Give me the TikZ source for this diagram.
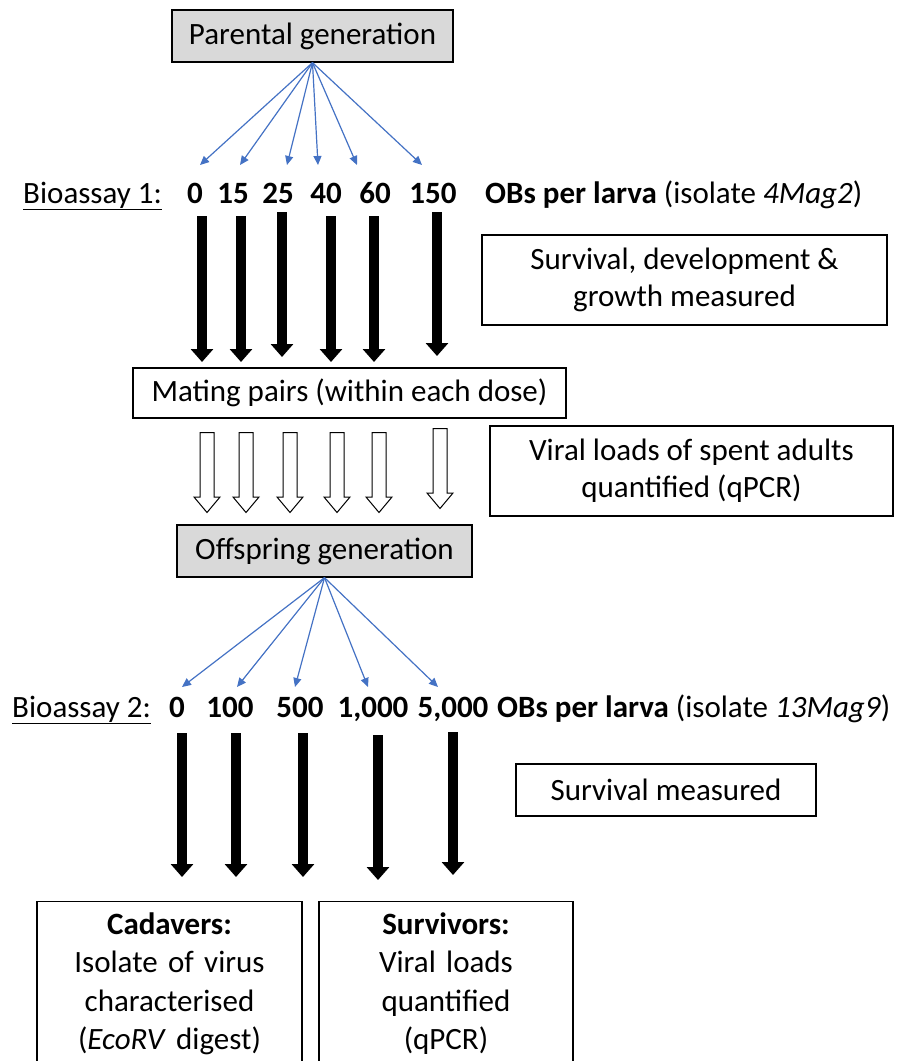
\documentclass[tikz,border=0pt]{standalone}
\usepackage{fontspec}
\setmainfont{Carlito}
\usetikzlibrary{arrows.meta,shapes.arrows}
\definecolor{boxgray}{RGB}{217,217,217}
\definecolor{arrowblue}{RGB}{68,114,196}

\begin{document}
\begin{tikzpicture}[
		x=1pt,y=-1pt,
		font=\fontsize{31}{37}\selectfont,
		genbox/.style={draw,line width=1.3pt,fill=boxgray,inner sep=0pt},
		infobox/.style={draw,line width=1.1pt,fill=white,align=center,inner sep=0pt},
		dose/.style={anchor=base,inner sep=0pt,font=\fontsize{31}{37}\selectfont\bfseries},
		rowtext/.style={anchor=base west,inner sep=0pt},
		thinarrow/.style={draw=arrowblue,line width=1.2pt,-{Triangle[width=8pt,length=9pt]}},
		fatarrow/.style={line width=10pt,-{Triangle[width=22pt,length=13pt]}},
		hollowarrow/.style={single arrow,draw,line width=1pt,fill=white,rotate=-90,anchor=tail,
			minimum height=80pt,inner xsep=0pt,inner ysep=6.5pt,
			single arrow head extend=6pt,single arrow tip angle=80}
		]
		\useasboundingbox (0,0) rectangle (912,1061);
		
		% parental generation and first bioassay
		\node[genbox,minimum width=281pt,minimum height=52pt] (par) at (312.5,36) {Parental generation};
		\node[rowtext] (bio1) at (23,203) {\underline{Bioassay 1:}};
		\foreach \v/\x [count=\i] in {0/195,15/233,25/278,40/326,60/375,150/433}
		\node[dose] (n\i) at (\x,203) {\v};
		\node[rowtext] (unit1) at (485,203) {\textbf{OBs per larva} (isolate \textit{4Mag2})};
		\foreach \x [count=\i] in {200,240,287,318,357,422}{
			\coordinate (t\i) at (\x,165);
			\draw[thinarrow] (par.south) -- (t\i);
		}
		\foreach \x/\t/\b [count=\i] in {202/216/362,241/216/362,282/212/357,331/216/362,374/216/362,437/212/356}{
			\coordinate (f\i) at (\x,\t);
			\coordinate (g\i) at (\x,\b);
			\draw[fatarrow] (f\i) -- (g\i);
		}
		\node[infobox,minimum width=405pt,minimum height=90pt] (surv) at (684.5,280)
		{Survival, development \&\\growth measured};
		
		% mating pairs
		\node[infobox,minimum width=433pt,minimum height=50pt] (mating) at (349.5,393)
		{Mating pairs (within each dose)};
		\foreach \x/\t [count=\i] in {207/432,246/432,290/432,337/432,379/432,440/428}
		\node[hollowarrow] (h\i) at (\x,\t) {};
		\node[infobox,minimum width=403pt,minimum height=90pt] (viral) at (691.5,471)
		{Viral loads of spent adults\\quantified (qPCR)};
		
		% offspring generation and second bioassay
		\node[genbox,minimum width=295pt,minimum height=52pt] (off) at (324.5,551) {Offspring generation};
		\foreach \x [count=\i] in {182,237,295,368,438}{
			\coordinate (u\i) at (\x,687);
			\draw[thinarrow] (off.south) -- (u\i);
		}
		\node[rowtext] (bio2) at (12,717) {\underline{Bioassay 2:}};
		\foreach \v/\x [count=\i] in {0/177,100/230,500/300,1{,}000/373,5{,}000/453}
		\node[dose] (m\i) at (\x,717) {\v};
		\node[rowtext] (unit2) at (497,717) {\textbf{OBs per larva} (isolate \textit{13Mag9})};
		\foreach \x/\t/\b [count=\i] in {182/733/877,236/733/877,303/733/877,378/735/880,453/732/875}{
			\coordinate (p\i) at (\x,\t);
			\coordinate (q\i) at (\x,\b);
			\draw[fatarrow] (p\i) -- (q\i);
		}
		\node[infobox,minimum width=300pt,minimum height=52pt] (survm) at (666,790) {Survival measured};
		
		% outcomes
		\node[infobox,anchor=north,text width=265pt,inner ysep=11pt,font=\fontsize{31}{38.5}\selectfont] (cad) at (169.5,901)
		{\textbf{Cadavers:}\\Isolate of virus\\characterised\\(\textit{EcoRV} digest)\\[40pt]~};
		\node[infobox,anchor=north,text width=254pt,inner ysep=11pt,font=\fontsize{31}{38.5}\selectfont] (surviv) at (446,901)
		{\textbf{Survivors:}\\Viral loads\\quantified\\(qPCR)\\[40pt]~};
	\end{tikzpicture}
\end{document}
